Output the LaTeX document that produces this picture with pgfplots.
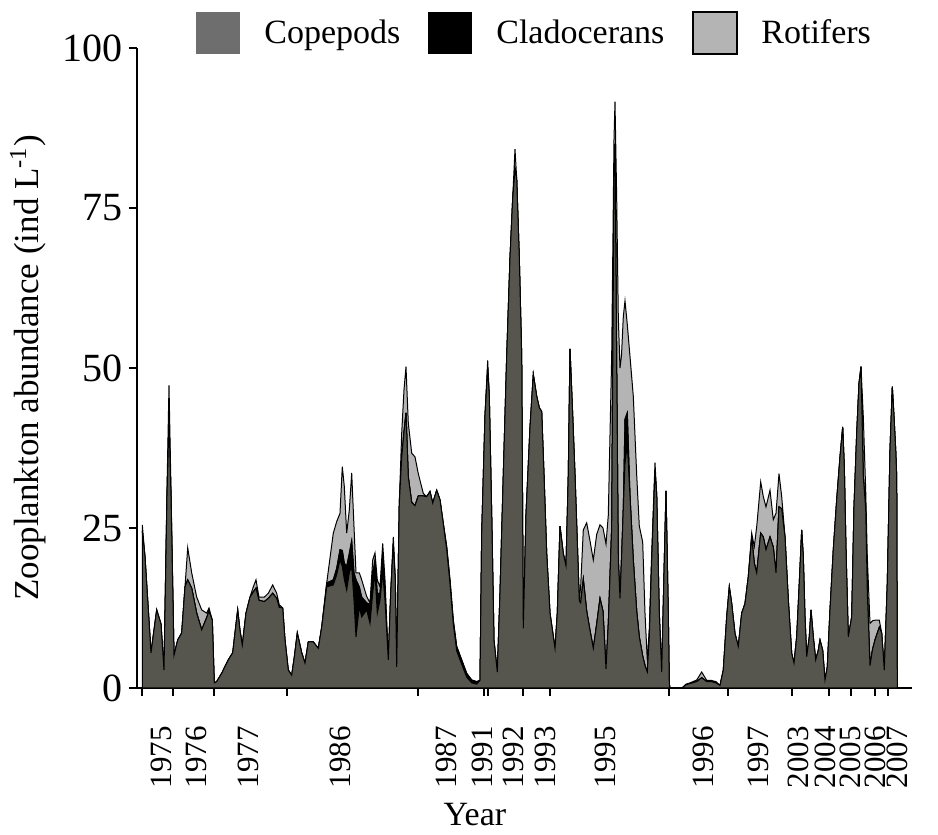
\documentclass[border=0pt]{standalone}
\usepackage{fontspec}
\setmainfont{Liberation Serif}
\usepackage{pgfplots}
\pgfplotsset{compat=1.18}
\usepackage{pgfplotstable}
\definecolor{copgrey}{RGB}{86,86,78}
\definecolor{legcop}{RGB}{110,110,110}
\definecolor{rotgrey}{RGB}{180,180,180}

\pgfplotstableread{
x cop cla rot
142.3 24.5 0 1.0
145 20.5 0 0
151 5.5 0 0
156.7 12.2 0 0
161 10 0 0
164 2.8 0 0
167 30 0 1
169 42 0 5.3
171 30 0 1
174 5.1 0 0
177.7 7.5 0 0
181.7 8.6 0 0
185 15.8 0 0
187.7 16.9 0 5
191.7 15.6 0 2.4
196.7 11.7 0 2.5
201.7 9.1 0 3.1
206.7 11 0 0.7
209 12 0 0.5
212.3 10.6 0 0
214.3 0.8 0 0
216.7 1 0 0
221.7 2.3 0 0
228.3 4.4 0 0
232.7 5.5 0 0
235 8.6 0 0
237.7 12.2 0 0
240 9 0 0
242.3 6.7 0 0
246 11.7 0 0
250 14.2 0 0
253.3 15 0 0.8
256 15.6 0 1.3
259 13.7 0 0.5
264.3 13.5 0 0.7
268.3 14 0 0.8
272.7 14.8 0 1.3
276.7 14 0 0.8
279.3 12.6 0 0.4
282.7 12.5 0 0
285 7.5 0 0
288.3 2.8 0 0
291.7 2.0 0 0
294.3 4.8 0 0
297.3 8.6 0 0
301.7 5.5 0 0
305 3.9 0 0
308.3 7.2 0 0
313.3 7.2 0 0
318.3 6.2 0 0
321.7 9.5 0 0
326.7 15.8 0.6 0
333.3 16.1 0.8 7.3
336.7 17.7 1 7.3
340 20 1.6 5.7
342.3 19 2.5 13.1
344.3 17 2.5 12
346.7 15.3 3.7 5.2
349.3 18 3 6.8
351.7 19 4 10.6
354 13.7 4.3 7.2
356 8 8.9 1.1
359.3 12.7 3.1 2.2
361.7 11.1 3.1 2.7
366.7 12.2 1.1 1
370 10.1 2.9 0.3
372.7 14.8 2.9 2.3
375 18 2 1.1
377.3 11.7 3.1 2.1
380 13.7 1.1 1
382.7 18 3 1.6
385 13.7 2 1.2
388.3 4.4 0 0
390.7 14.8 0 0
393.3 22.5 0 1.1
395.3 16.9 0 0
396.7 3.3 0 0
399.3 28.9 0 0
401.7 36 0 3.8
404 40 0 6.6
406 43 0 7.2
408.3 33 0 8.4
411.7 29 0 7.7
415 28.5 0 7.6
418.3 30 0 3.5
423.3 30 0 0.4
426.7 29.9 0 0
430 30.7 0 0
432.7 28.9 0 0
436.7 30.9 0 0
440 29.4 0 0
443.3 25.7 0 0
446.7 21.6 0.5 0
450 16.3 0.6 0
453.3 10 0.6 0
456.7 5.8 0.7 0
461.7 3.7 0.7 0
466.7 1.7 0.6 0
471.7 0.8 0.45 0
476.7 0.6 0.4 0
480 1.2 0 0
481.7 24.1 0 0
485 42.6 0 0
487.7 50 0 1.2
489.3 45.6 0 0
491.7 27.1 0 0
494 7.4 0 0
497.3 2.5 0 0
500 14.8 0 0
503.3 33.3 0 0
506.7 51.8 0 0
510 67.2 0 0
512.7 76.5 0 0
515 81 0 3.2
516.7 79.6 0 0
519.3 67.2 0 0
521.7 51.8 0 0
523.3 9.3 0 0
526 27.1 0 0
530 40.7 0 0
533.3 49 0 0
536.7 45.6 0 0
539.3 43.8 0 0
541.7 43.2 0 0
544 33.3 0 0
546.7 21 0 0
550 11.7 0 0
555 6.2 0 0
557.3 11.7 0 0
560 25.3 0 0
563.3 21 0 0
566 19.1 0 0
568.3 33.3 0 0
570 53 0 0
572.7 42.6 0 0
575 33.3 0 0
577.3 22.8 0 0
579.3 13.6 0 0
580.7 13.3 0 2.7
583.3 17 0 7.7
586.7 12 0 13.8
590 9 0 14
593.3 6.2 0 13.8
596.7 10 0 14
600 14 0 11.5
603 12 0 13
606 3 0 19.5
608.3 10 0 17
611.7 25 0 27
614 80 0 5.7
615 85 0 6.6
616.7 50 0 26.5
618.3 20 0 38
620 14 0 36
621.5 20 0 32
623.3 28 0 30
625 35 7 18.5
627.3 38 5 13.8
630 30 0 21.8
633.3 20 0 25.6
636.7 12 0 21.3
639.3 8 0 17.3
642.7 5 0 17.8
645 3.5 0 8.2
647.3 2.5 0 1.8
649.3 8 0 1.3
651.7 20 0 1
655 34 0 1.2
656.7 30.2 0 0
659.3 11.7 0 0
661.7 2.5 0 0
664 17.9 0 0
666 30.8 0 0
668.3 11.7 0 0
669.3 0.6 0 0
670 0 0 0
682 0 0 0
686 0.5 0 0.1
690 0.7 0 0.1
696.7 1.0 0 0.25
701.7 1.6 0 0.9
706.7 1.0 0 0.2
711 1.0 0 0.2
716 0.8 0 0.2
720 0.4 0 0
723.3 2.8 0 0
726.7 11.1 0 0
729.3 15.8 0 0
731.7 13.2 0 0
735 8.5 0 0
738.3 6.5 0 0
741.7 11.7 0 0
745 13.2 0 0
748.3 17.4 0 0
751.7 23.5 0 0.7
754.3 19.5 0 2.6
756.7 18 0 7.2
760.7 24.2 0 8
763.3 23.6 0 6.3
766 21.6 0 6.7
770 23.6 0 7.3
773.3 22 0 4.3
776 18 0 9.3
779 28.3 0 5.2
781.7 28 0 1.9
785 23.6 0 0
788.3 13.8 0 0
791.7 5.4 0 0
794 3.9 0 0
796.7 8 0 0
799.3 16.4 0 0
801.7 24.7 0 0
803.3 20.5 0 0
805 11.1 0 0
806.7 4.9 0 0
809.3 8 0 0
811 12.2 0 0
813.3 8 0 0
815.7 4.4 0 0
818.3 5.9 0 0
820 7.5 0 0
822.7 5.9 0 0
825 1.25 0 0
827.3 3.3 0 0
830 12.2 0 0
833.3 21.6 0 0
836.7 29.4 0 0
840 36.1 0 0
842.7 40.8 0 0
844.3 34.6 0 0
846 21.6 0 0
848.3 8 0 0
851.7 11.1 0 0
854 28.3 0 0
856.7 39.8 0 0
859 47.6 0 0
861 50.2 0 0
863.3 33 0 9.4
865.7 28 0 2.9
867.3 15 0 5.5
870 3.5 0 6.6
872.5 6 0 4.5
875 7.5 0 3.1
879.3 9.5 0 1.1
881.7 8.6 0 0
884.3 2.8 0 0
887.3 16.4 0 0
890 37.2 0 0
892.3 47.1 0 0
894 42.4 0 0
895.7 37.2 0 0
896.7 33 0 0
897.3 0 0 0
}\zootable

\begin{document}
\begin{tikzpicture}
\path[use as bounding box] (-68.5pt,-73.5pt) rectangle (400.5pt,344pt);
\begin{axis}[
  scale only axis, width=387.5pt, height=320pt,
  xmin=137, xmax=912, ymin=0, ymax=100,
  axis x line*=bottom, axis y line*=left,
  axis line style={line width=0.8pt, black},
  stack plots=y,
  ytick={0,25,50,75,100},
  xtick={142,173,214,287,418,484,488,523,550,669,728,792,829,851,875,888},
  xticklabels={},
  extra x ticks={161.7,196.7,248.3,340,446.7,482.5,513.3,545,605,703.3,758.3,798.3,825,850,875,897},
  extra x tick labels={1975,1976,1977,1986,1987,1991,1992,1993,1995,1996,1997,2003,2004,2005,2006,2007},
  extra x tick style={tick style={draw=none}},
  xticklabel style={font=\fontsize{15.5}{18}\selectfont, yshift=-15pt, rotate=90, anchor=east, inner sep=0pt},
  yticklabel style={font=\fontsize{20}{22}\selectfont, inner sep=0pt, xshift=-3pt},
  /pgf/number format/assume math mode=true,
  tick align=outside, major tick length=4pt,
  tick style={line width=0.8pt, black},
  xlabel={Year},
  ylabel={Zooplankton abundance (ind L\textsuperscript{-1})},
  xlabel style={at={(rel axis cs:0.436,-0.198)}, anchor=center, font=\fontsize{17}{20}\selectfont},
  ylabel style={at={(rel axis cs:-0.1406,0.5)}, anchor=center, font=\fontsize{17.5}{20}\selectfont},
  legend image code/.code={\path[#1] (0pt,-10.5pt) rectangle (22pt,10.5pt); \path[draw=none, fill=none] (0pt,0pt) rectangle (34pt,0.1pt);},
  legend style={at={(rel axis cs:0.0761,1.0234)}, anchor=west, draw=none, fill=none, inner sep=0pt,
    legend columns=-1, font=\fontsize{17}{20}\selectfont,
    /tikz/every even column/.append style={column sep=14pt}, nodes={inner sep=0pt}},
]
\addplot[fill=copgrey, draw=black, line width=0.5pt, forget plot] table[x=x, y=cop] {\zootable} \closedcycle;
\addplot[fill=black, draw=black, line width=0.5pt, forget plot] table[x=x, y=cla] {\zootable} \closedcycle;
\addplot[fill=rotgrey, draw=black, line width=0.5pt, forget plot] table[x=x, y=rot] {\zootable} \closedcycle;
\addlegendimage{fill=legcop, draw=none}
\addlegendentry{Copepods}
\addlegendimage{fill=black, draw=none}
\addlegendentry{Cladocerans}
\addlegendimage{fill=rotgrey, draw=black, line width=1pt}
\addlegendentry{Rotifers}
\end{axis}
\end{tikzpicture}
\end{document}
